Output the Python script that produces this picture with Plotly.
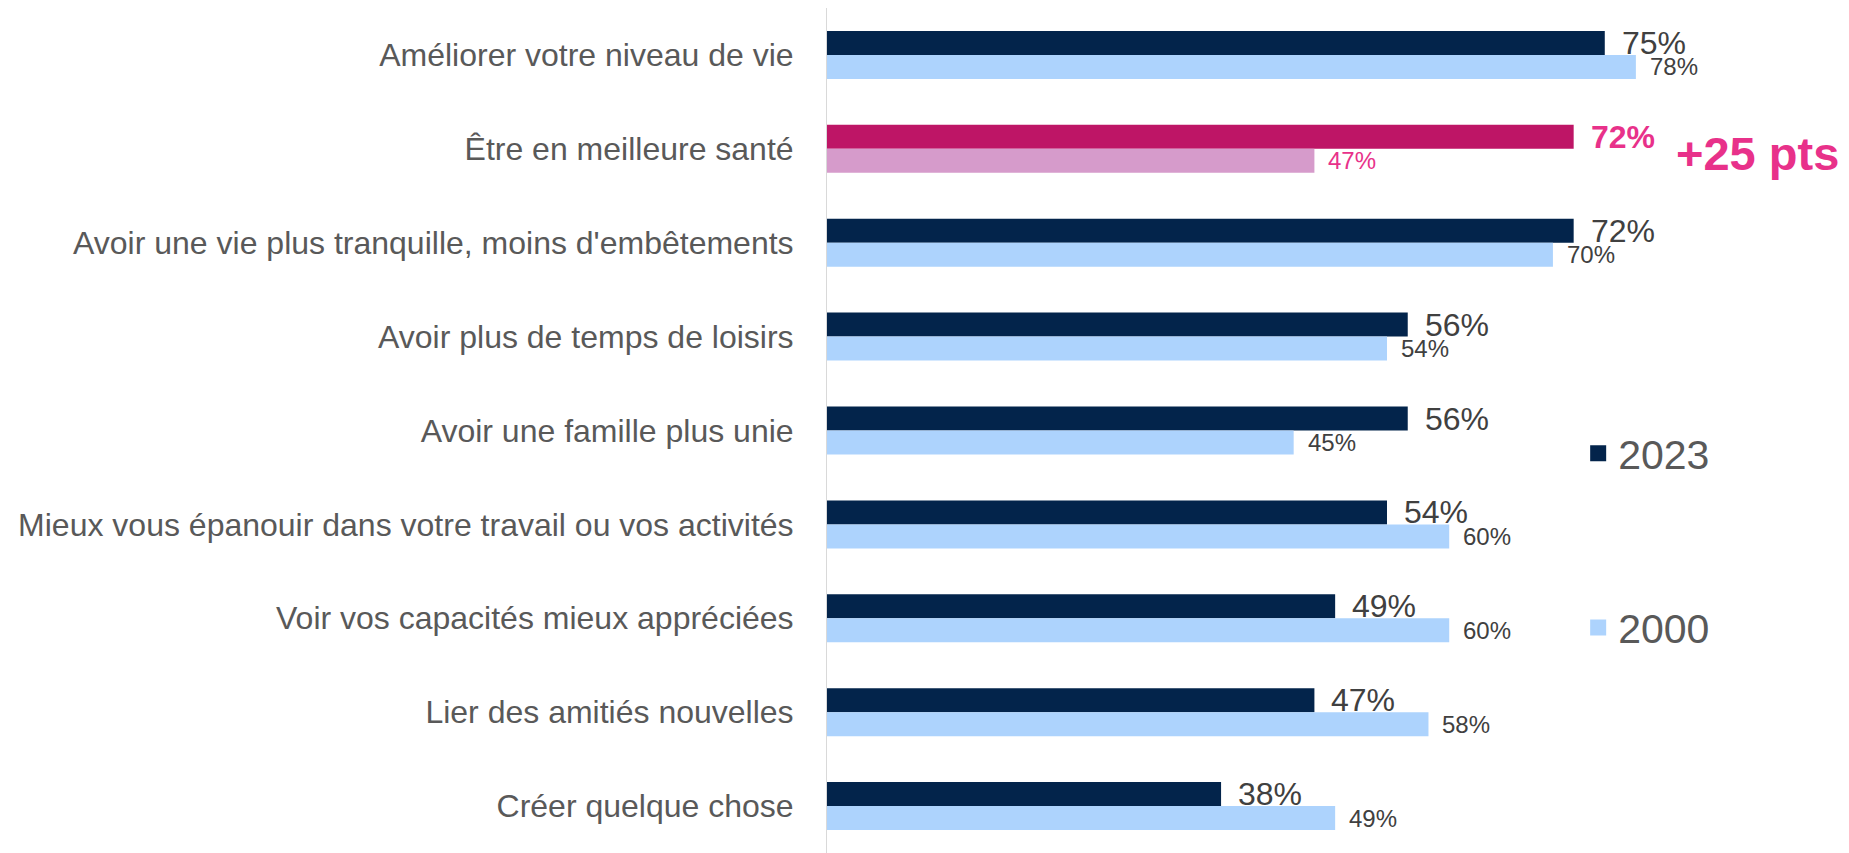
import plotly.graph_objects as go

categories = [
    "Améliorer votre niveau de vie",
    "Être en meilleure santé",
    "Avoir une vie plus tranquille, moins d'embêtements",
    "Avoir plus de temps de loisirs",
    "Avoir une famille plus unie",
    "Mieux vous épanouir dans votre travail ou vos activités",
    "Voir vos capacités mieux appréciées",
    "Lier des amitiés nouvelles",
    "Créer quelque chose",
]
values_2023 = [75, 72, 72, 56, 56, 54, 49, 47, 38]
values_2000 = [78, 47, 70, 54, 45, 60, 60, 58, 49]
series_names = ["2023", "2000"]
highlight = "Être en meilleure santé"

NAVY = "#03244B"
LIGHT = "#ADD3FD"
MAGENTA = "#BE1566"
PINK_LIGHT = "#D69BCB"
PINK_TEXT = "#E8318A"
LABEL_GRAY = "#595959"
VALUE_GRAY = "#404040"
FONT = "Liberation Sans, Arial, sans-serif"

fig = go.Figure()

col_2023 = [MAGENTA if c == highlight else NAVY for c in categories]
col_2000 = [PINK_LIGHT if c == highlight else LIGHT for c in categories]

fig.add_trace(go.Bar(
    y=categories, x=values_2023, orientation="h", name=series_names[0],
    marker=dict(color=col_2023, line=dict(width=0)), showlegend=False,
    hoverinfo="x+y",
))
fig.add_trace(go.Bar(
    y=categories, x=values_2000, orientation="h", name=series_names[1],
    marker=dict(color=col_2000, line=dict(width=0)), showlegend=False,
    hoverinfo="x+y",
))

# legend entries
for nm, col in zip(series_names, [NAVY, LIGHT]):
    fig.add_trace(go.Scatter(
        x=[None], y=[None], mode="markers", name=nm, legendgroup=nm,
        marker=dict(symbol="square", size=16, color=col, line=dict(width=0)),
    ))

annotations = []
for c, a, b in zip(categories, values_2023, values_2000):
    hl = c == highlight
    annotations.append(dict(
        x=a, y=c, xref="x", yref="y", xanchor="left", yanchor="middle",
        xshift=15, yshift=12, showarrow=False,
        text=f"<b>{a}%</b>" if hl else f"{a}%",
        font=dict(size=32, color=PINK_TEXT if hl else VALUE_GRAY, family=FONT),
    ))
    annotations.append(dict(
        x=b, y=c, xref="x", yref="y", xanchor="left", yanchor="middle",
        xshift=12, yshift=-12, showarrow=False,
        text=f"{b}%",
        font=dict(size=24, color=PINK_TEXT if hl else VALUE_GRAY, family=FONT),
    ))

hi = categories.index(highlight)
annotations.append(dict(
    x=1, y=highlight, xref="paper", yref="y", xanchor="right", yanchor="middle",
    xshift=-8, yshift=-5, showarrow=False,
    text=f"<b>+{values_2023[hi] - values_2000[hi]} pts</b>",
    font=dict(size=47, color=PINK_TEXT, family=FONT),
))

fig.update_layout(
    width=1849, height=853,
    margin=dict(l=827, r=0, t=8, b=0, autoexpand=False),
    paper_bgcolor="white", plot_bgcolor="white",
    barmode="group", bargap=0.489, bargroupgap=0,
    font=dict(family=FONT, color=LABEL_GRAY),
    xaxis=dict(range=[0, 98.55], visible=False, fixedrange=True),
    yaxis=dict(
        type="category", categoryorder="array", categoryarray=categories,
        autorange="reversed", showline=True, linecolor="#D9D9D9", linewidth=1,
        showgrid=False, zeroline=False, ticks="", ticklabelstandoff=26,
        tickfont=dict(size=32, color=LABEL_GRAY, family=FONT), fixedrange=True,
    ),
    legend=dict(
        x=0.735, xanchor="left", y=0.5124, yanchor="top",
        font=dict(size=41, color=LABEL_GRAY, family=FONT),
        tracegroupgap=118, bgcolor="rgba(0,0,0,0)", borderwidth=0,
        traceorder="grouped",
    ),
    annotations=annotations,
    showlegend=True,
)

fig.write_html(
    "out.html",
    config={"displayModeBar": False},
    post_script="document.body.style.margin='0';document.body.style.overflow='hidden';",
)
